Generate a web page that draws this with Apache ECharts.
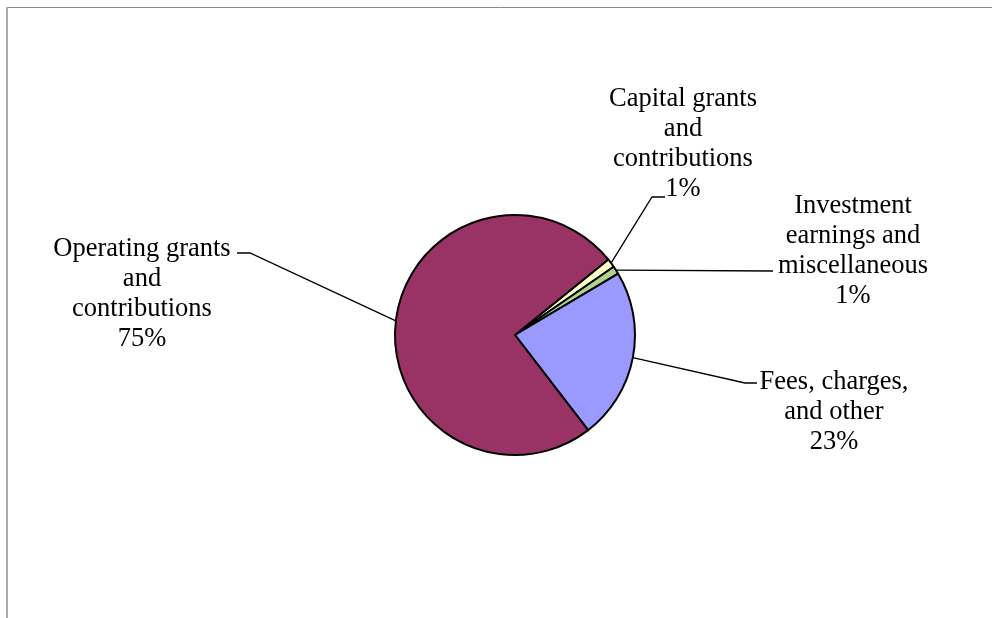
<!DOCTYPE html>
<html><head><meta charset="utf-8">
<script src="https://cdn.jsdelivr.net/npm/echarts@6/dist/echarts.min.js"></script>
<style>html,body{margin:0;padding:0;background:#fff}#c{width:992px;height:618px}</style>
</head><body><div id="c"></div>
<script>
var categories = ['Capital grants and contributions', 'Investment earnings and miscellaneous', 'Fees, charges, and other', 'Operating grants and contributions'];
var labelTexts = ['Capital grants\nand\ncontributions', 'Investment\nearnings and\nmiscellaneous', 'Fees, charges,\nand other', 'Operating grants\nand\ncontributions'];
var values = [1.2, 1.1, 23.1, 74.6];
var colors = ['#FFFFCC', '#ADD38F', '#9999FF', '#993366'];
// label centre positions and leader-line bend/end points (annotation layout only)
var labelPos = [[683, 144], [853, 251], [834, 412], [142, 294]];
var leaderBend = [[652, 197], [773, 271], [745, 383], [250, 253]];
var leaderEnd = [[665, 197], [773, 271], [757, 383], [237, 253]];

var CX = 515, CY = 335, R = 120, START = 39;
function sliceEdgeMid(idx) {
  var total = values.reduce(function (a, b) { return a + b; }, 0);
  var before = 0;
  for (var i = 0; i < idx; i++) before += values[i];
  var mid = START - (before + values[idx] / 2) / total * 360;
  var rad = mid * Math.PI / 180;
  return [CX + R * Math.cos(rad), CY - R * Math.sin(rad)];
}

var chart = echarts.init(document.getElementById('c'));
chart.setOption({
  animation: false,
  graphic: [
    {type: 'line', shape: {x1: 7, y1: 7.5, x2: 992, y2: 7.5}, style: {stroke: '#888', lineWidth: 1}},
    {type: 'line', shape: {x1: 7, y1: 7, x2: 7, y2: 618}, style: {stroke: '#aaa', lineWidth: 2}}
  ],
  series: [{
    type: 'pie',
    center: [CX, CY],
    radius: R,
    startAngle: START,
    clockwise: true,
    percentPrecision: 0,
    data: categories.map(function (c, i) {
      return {name: c, value: values[i], itemStyle: {color: colors[i]}};
    }),
    itemStyle: {borderColor: '#000', borderWidth: 2},
    emphasis: {disabled: true},
    label: {
      formatter: function (p) { return labelTexts[p.dataIndex] + '\n' + p.percent + '%'; },
      fontFamily: 'Liberation Serif',
      fontSize: 26.5,
      lineHeight: 30,
      color: '#000',
      align: 'center'
    },
    labelLine: {show: true, lineStyle: {color: '#000', width: 1.3}},
    labelLayout: function (p) {
      var i = p.dataIndex;
      var pos = labelPos[i];
      var start = sliceEdgeMid(i);
      return {
        x: pos[0], y: pos[1], align: 'center', verticalAlign: 'middle',
        labelLinePoints: [start, leaderBend[i], leaderEnd[i]]
      };
    }
  }]
});
</script></body></html>
